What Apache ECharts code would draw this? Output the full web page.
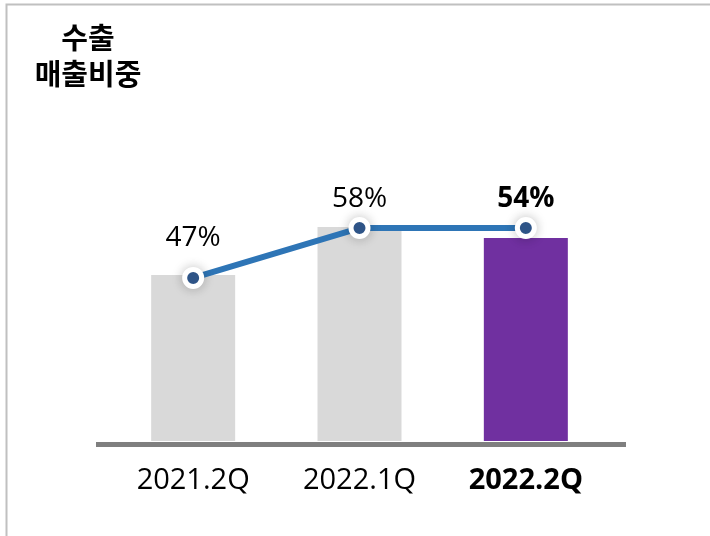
<!DOCTYPE html>
<html>
<head>
<meta charset="utf-8">
<script src="https://cdn.jsdelivr.net/npm/echarts@6/dist/echarts.min.js"></script>
<style>
  html, body { margin: 0; padding: 0; background: #fff; }
  #main { width: 710px; height: 536px; }
</style>
</head>
<body>
<div id="main"></div>
<script>
// 분기
let categories = ['2021.2Q', '2022.1Q', '2022.2Q']
// 막대 높이
  , barValues = [45, 58, 55]
// 선 위치
  , lineValues = [44.2, 57.7, 57.7]
// 표시 라벨 (%)
  , shareLabels = [47, 58, 54]

let chart = echarts.init(document.getElementById('main'))

let lastIdx = categories.length - 1
  , latin = "'Open Sans', 'Noto Sans CJK KR', sans-serif"

chart.setOption({
  backgroundColor: '#fff',
  animation: false,
  title: {
    text: '수출\n매출비중',
    left: 83,
    top: 15,
    textAlign: 'center',
    textStyle: {
      fontFamily: 'Noto Sans CJK KR',
      fontSize: 29,
      fontWeight: 'bold',
      color: '#000',
      lineHeight: 36
    }
  },
  graphic: [
    // 테두리 (위, 왼쪽)
    {
      type: 'rect',
      shape: { x: 6.5, y: 4.5, width: 900, height: 900 },
      style: { fill: 'none', stroke: '#c0c0c0', lineWidth: 2 },
      z: 0
    },
    // 바닥선
    {
      type: 'rect',
      shape: { x: 96, y: 442, width: 530, height: 5 },
      style: { fill: '#7f7f7f' },
      z: 10
    }
  ],
  grid: { left: 110, right: 101, top: 72, bottom: 95 },
  xAxis: {
    type: 'category',
    data: categories,
    axisLine: { show: false },
    axisTick: { show: false },
    axisLabel: {
      interval: 0,
      margin: 25,
      fontFamily: latin,
      fontSize: 29,
      color: '#000',
      formatter: (v, i) => i === lastIdx ? `{b|${v}}` : v,
      rich: {
        b: { fontFamily: latin, fontSize: 29, fontWeight: 'bold', color: '#000' }
      }
    }
  },
  yAxis: {
    type: 'value',
    min: 0,
    max: 100,
    show: false,
    splitLine: { show: false }
  },
  series: [
    {
      type: 'bar',
      barWidth: 84,
      data: barValues.map((v, i) => ({
        value: v,
        itemStyle: { color: i === lastIdx ? '#7030a0' : '#d9d9d9' }
      })),
      z: 2
    },
    {
      type: 'line',
      data: lineValues.map((v, i) => ({
        value: v,
        label: {
          distance: i === 0 ? 15 : 4,
          fontWeight: i === lastIdx ? 'bold' : 'normal'
        }
      })),
      lineStyle: { color: '#2e75b6', width: 6 },
      symbol: 'circle',
      symbolSize: 17,
      itemStyle: {
        color: '#335c94',
        borderColor: '#fff',
        borderWidth: 5,
        shadowBlur: 12,
        shadowColor: 'rgba(0,0,0,0.2)'
      },
      label: {
        show: true,
        position: 'top',
        fontFamily: latin,
        fontSize: 28,
        color: '#000',
        formatter: p => shareLabels[p.dataIndex] + '%'
      },
      z: 5
    }
  ]
})
</script>
</body>
</html>
